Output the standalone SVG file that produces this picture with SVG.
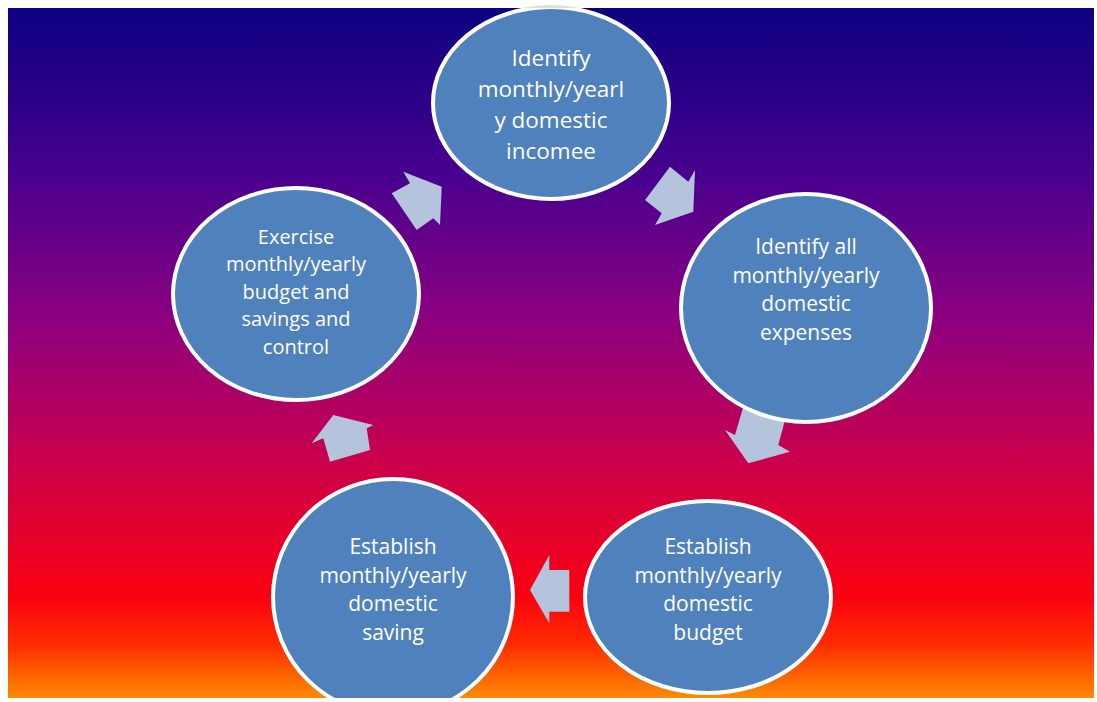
<svg xmlns="http://www.w3.org/2000/svg" width="1097" height="702" viewBox="0 0 1097 702">
<style>
.node ellipse{fill:#4f81bd;stroke:#ffffff;stroke-width:4}
.node text{fill:#ffffff;font-family:"Open Sans","Liberation Sans",sans-serif;text-anchor:middle}
.t1{font-size:22.5px}
.t2{font-size:21px}
.t3{font-size:20px}
.arr{fill:#b3c4dc}
</style>
<defs>
<linearGradient id="bg" x1="0" y1="0" x2="0" y2="1">
<stop offset="0" stop-color="#0c0080"/>
<stop offset="0.25" stop-color="#4a008e"/>
<stop offset="0.45" stop-color="#8c0080"/>
<stop offset="0.65" stop-color="#c8004e"/>
<stop offset="0.85" stop-color="#fa0012"/>
<stop offset="0.92" stop-color="#ff2a00"/>
<stop offset="1" stop-color="#ff8a00"/>
</linearGradient>
<clipPath id="clipIn"><rect x="8" y="8" width="1086" height="690"/></clipPath>
<clipPath id="clipOut"><rect x="0" y="0" width="1097" height="8"/></clipPath>
</defs>
<rect x="0" y="0" width="1097" height="702" fill="#ffffff"/>
<rect x="8" y="8" width="1086" height="690" fill="url(#bg)"/>
<ellipse cx="551" cy="103" rx="118" ry="98" fill="#c4c8cc" opacity="0.6" clip-path="url(#clipOut)"/>
<g id="connectors">
<polygon class="arr" points="391.7,193.3 410,183.3 403.3,171.7 441.7,186.7 440,225 433.3,218.3 416.7,230"/>
<polygon class="arr" points="670,166.7 688.3,181.7 695,170 693.3,211.7 655,225 661.7,213.3 645,200"/>
<polygon class="arr" points="743.3,406.7 785,420 778.3,445 790,451.7 748.3,463.3 725,430 735,435"/>
<polygon class="arr" points="569.3,570 549.3,570 549.3,555 530,590 549.3,623.3 549.3,611.7 569.3,611.7"/>
<polygon class="arr" points="330,461.7 370,450 366.7,428.3 373.3,425 333.3,415 311.7,443.3 323.3,438.3"/>
</g>
<g clip-path="url(#clipIn)">
<g id="node-income" class="node">
<ellipse cx="551" cy="103" rx="118" ry="96"/>
<text class="t1" x="551" y="66">Identify</text>
<text class="t1" x="551" y="97">monthly/yearl</text>
<text class="t1" x="551" y="128">y domestic</text>
<text class="t1" x="551" y="159">incomee</text>
</g>
<g id="node-expenses" class="node">
<ellipse cx="806" cy="308" rx="125" ry="114"/>
<text class="t2" x="806" y="254">Identify all</text>
<text class="t2" x="806" y="282.5">monthly/yearly</text>
<text class="t2" x="806" y="311">domestic</text>
<text class="t2" x="806" y="339.5">expenses</text>
</g>
<g id="node-budget" class="node">
<ellipse cx="708" cy="597" rx="123" ry="96"/>
<text class="t2" x="708" y="554">Establish</text>
<text class="t2" x="708" y="582.5">monthly/yearly</text>
<text class="t2" x="708" y="611">domestic</text>
<text class="t2" x="708" y="639.5">budget</text>
</g>
<g id="node-saving" class="node">
<ellipse cx="393" cy="597" rx="120" ry="118"/>
<text class="t2" x="393" y="554">Establish</text>
<text class="t2" x="393" y="582.5">monthly/yearly</text>
<text class="t2" x="393" y="611">domestic</text>
<text class="t2" x="393" y="639.5">saving</text>
</g>
<g id="node-exercise" class="node">
<ellipse cx="296" cy="294" rx="123" ry="106"/>
<text class="t3" x="296" y="243.5">Exercise</text>
<text class="t3" x="296" y="271">monthly/yearly</text>
<text class="t3" x="296" y="298.5">budget and</text>
<text class="t3" x="296" y="326">savings and</text>
<text class="t3" x="296" y="353.5">control</text>
</g>
</g>
</svg>
